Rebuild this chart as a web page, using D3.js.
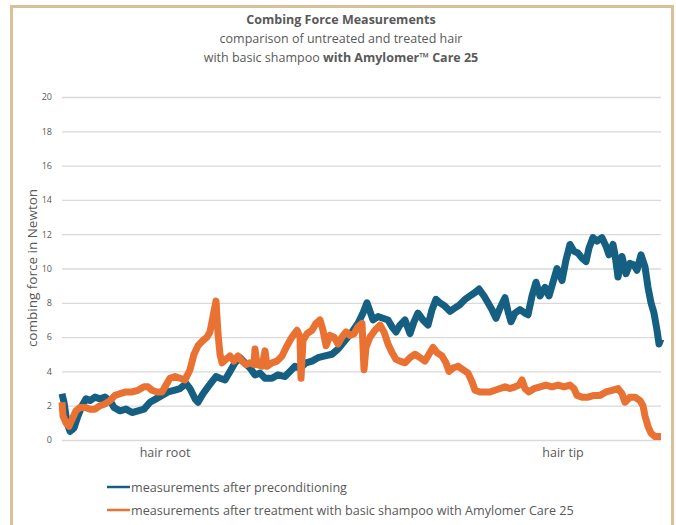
<!DOCTYPE html>
<html><head><meta charset="utf-8">
<script src="https://cdn.jsdelivr.net/npm/d3@7"></script>
<style>
html,body{margin:0;padding:0;background:#fff;}
svg{display:block;font-family:"Open Sans",sans-serif;}
</style></head>
<body><svg id="c" width="676" height="525"></svg>
<script>
// sample position along the comb stroke (0 = hair root end, ~600 = hair tip end)
const bluePos = [0,2,5,8,12,16,20,24,28,33,38,43,48,52,58,64,70,76,82,88,94,100,106,112,118,124,128,133,136,141,146,150,154,158,163,168,173,178,183,188,193,198,203,210,216,223,228,233,238,244,250,256,263,270,276,283,290,296,301,305,308,311,316,321,326,330,334,338,343,348,352,356,361,366,370,374,378,383,388,393,398,403,408,413,417,422,426,430,434,438,443,446,449,453,458,463,466,470,474,478,483,487,491,495,500,504,508,512,516,520,524,527,531,535,540,544,547,551,553,556,560,564,568,572,575,579,583,586,589,592,595,597,599];
const blueVal = [2.7,2.2,1.0,0.5,0.7,1.4,2.0,2.4,2.3,2.5,2.4,2.5,2.3,1.9,1.7,1.8,1.6,1.7,1.8,2.2,2.4,2.6,2.8,2.9,3.0,3.3,3.0,2.4,2.2,2.7,3.1,3.4,3.7,3.6,3.5,4.0,4.5,4.8,4.5,4.2,3.8,3.9,3.6,3.6,3.8,3.7,4.0,4.3,4.2,4.5,4.6,4.8,4.9,5.0,5.3,5.8,6.3,6.8,7.4,8.0,7.5,7.0,7.2,7.1,7.0,6.6,6.3,6.7,7.0,6.2,6.9,7.4,7.0,6.7,7.6,8.2,8.0,7.8,7.5,7.7,7.9,8.2,8.4,8.6,8.8,8.4,8.0,7.6,7.1,7.7,8.3,7.5,6.9,7.4,7.6,7.4,7.3,8.4,9.2,8.4,8.9,8.4,9.2,10.0,9.3,10.5,11.4,11.0,10.9,10.6,10.4,11.2,11.8,11.6,11.8,11.3,10.8,11.4,10.8,9.5,10.7,9.7,10.3,10.2,9.9,10.8,10.1,8.9,8.0,7.4,6.4,5.6,5.9];

const orangePos = [0,1,4,7,10,14,18,23,28,33,38,43,48,53,58,64,70,76,82,86,90,95,100,104,108,113,118,123,128,132,136,141,145,148,151,154,156,158,160,164,168,172,176,180,184,188,192,193,195,200,203,205,210,215,220,225,230,235,238,239,241,245,250,254,258,261,264,268,272,276,280,284,288,292,296,300,302,304,308,313,318,322,326,330,334,338,343,348,353,358,363,368,371,375,380,384,387,391,396,401,406,410,413,418,423,428,433,438,443,448,453,457,460,463,467,472,478,484,490,496,502,508,512,515,520,526,532,538,544,550,556,560,563,568,573,578,581,583,586,589,593,599];
const orangeVal = [2.2,1.4,1.0,0.8,1.2,1.7,1.9,1.9,1.8,1.8,2.0,2.1,2.3,2.6,2.7,2.8,2.8,2.9,3.1,3.1,2.9,2.8,2.8,3.2,3.6,3.7,3.6,3.5,4.1,5.0,5.5,5.8,6.0,6.3,7.2,8.1,6.2,5.0,4.5,4.7,4.9,4.6,4.9,4.6,4.4,4.5,4.4,5.3,4.4,4.3,5.2,4.3,4.5,4.6,4.9,5.5,6.0,6.4,6.0,3.6,5.8,6.2,6.4,6.8,7.0,6.4,5.5,6.1,6.0,5.6,6.0,6.3,6.1,6.2,6.6,6.8,4.1,5.4,6.0,6.4,6.7,6.3,5.6,5.1,4.7,4.6,4.5,4.8,5.0,4.8,4.6,5.1,5.4,5.1,4.9,4.5,4.0,4.2,4.3,4.1,3.9,3.4,2.9,2.8,2.8,2.8,2.9,3.0,3.1,3.0,3.1,3.2,3.5,3.0,2.8,3.0,3.1,3.2,3.1,3.2,3.1,3.2,3.0,2.6,2.5,2.5,2.6,2.6,2.8,2.9,3.0,2.7,2.2,2.5,2.5,2.3,2.0,1.4,0.8,0.4,0.2,0.2];

const yTicks = [0,2,4,6,8,10,12,14,16,18,20];
const xLabels = ["hair root","hair tip"];
const xLabelPos = [103,501];
const seriesNames = ["measurements after preconditioning","measurements after treatment with basic shampoo with Amylomer Care 25"];
const colors = ["#156082","#E97132"];

const svg = d3.select("#c");
const txt = "#595959";

// frame
svg.append("path").attr("d","M11.5,525 V6.5 H672.5 V525").attr("fill","none")
  .attr("stroke","#D9C096").attr("stroke-width",3);

const x = d3.scaleLinear().domain([0,599]).range([62,661]);
const y = d3.scaleLinear().domain([0,20]).range([440,97]);

// gridlines + tick labels
const yAxis = d3.axisLeft(y).tickValues(yTicks).tickSize(-(x.range()[1]-x.range()[0])).tickPadding(10);
const ga = svg.append("g").attr("transform",`translate(${x.range()[0]},0)`).call(yAxis);
ga.select(".domain").remove();
ga.selectAll(".tick line").attr("stroke","#D9D9D9").attr("stroke-width",1.3);
ga.selectAll(".tick text").attr("fill",txt).attr("font-size",9).attr("font-family","'Open Sans',sans-serif");

// x category labels
svg.selectAll("text.xl").data(xLabels).join("text").attr("class","xl")
  .attr("x",(d,i)=>x(xLabelPos[i])).attr("y",457).attr("text-anchor","middle")
  .attr("font-size",12.5).attr("fill",txt).text(d=>d);

// y title
svg.append("text").attr("transform","translate(37,268) rotate(-90)").attr("text-anchor","middle")
  .attr("font-size",13.5).attr("fill",txt).text("combing force in Newton");

// title
const t = svg.append("g").attr("text-anchor","middle").attr("fill",txt);
t.append("text").attr("x",341).attr("y",24).attr("font-size",12.5).attr("font-weight","bold").text("Combing Force Measurements");
t.append("text").attr("x",341).attr("y",43).attr("font-size",12.5).text("comparison of untreated and treated hair");
const l3 = t.append("text").attr("x",341).attr("y",62).attr("font-size",12.5);
l3.append("tspan").text("with basic shampoo ");
l3.append("tspan").attr("font-weight","bold").text("with Amylomer™ Care 25");

// lines
const line = d3.line().x(d=>x(d[0])).y(d=>y(d[1])).curve(d3.curveLinear);
const blue = bluePos.map((p,i)=>[p,blueVal[i]]);
const orange = orangePos.map((p,i)=>[p,orangeVal[i]]);
[blue,orange].forEach((data,i)=>{
  svg.append("path").datum(data).attr("d",line).attr("fill","none")
    .attr("stroke",colors[i]).attr("stroke-width",7).attr("stroke-linejoin","round").attr("stroke-linecap","butt");
});

// legend
const lg = svg.append("g");
seriesNames.forEach((n,i)=>{
  const yy = 487 + i*23;
  lg.append("line").attr("x1",107).attr("x2",130).attr("y1",yy).attr("y2",yy).attr("stroke",colors[i]).attr("stroke-width",2.5);
  lg.append("text").attr("x",131).attr("y",yy+4.5).attr("font-size",12.6).attr("fill",txt).text(n);
});
</script></body></html>
